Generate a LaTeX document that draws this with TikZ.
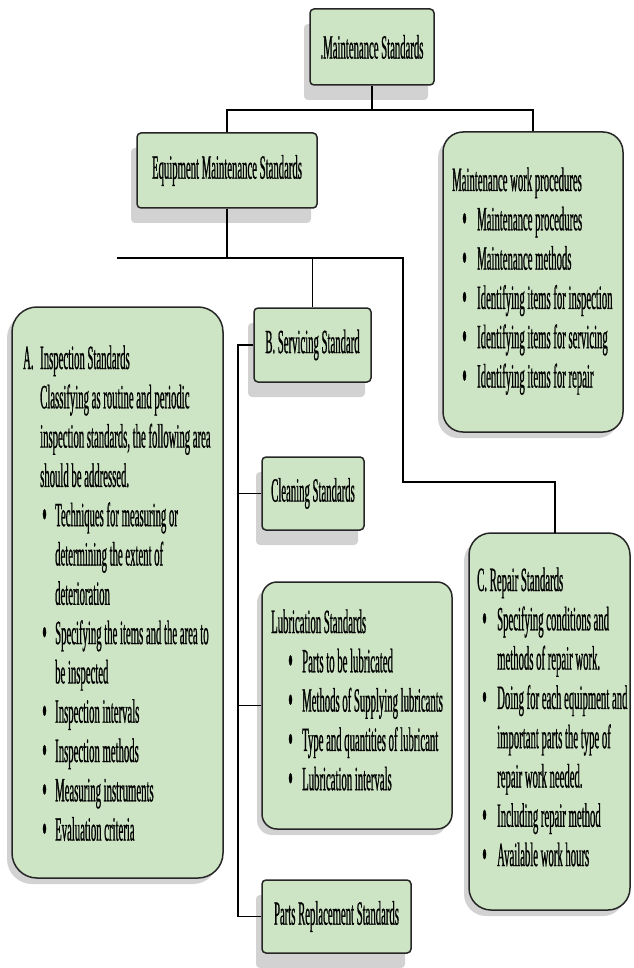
\documentclass[tikz,border=0pt]{standalone}
\usepackage{fontspec}
\setmainfont{Liberation Serif}[FakeStretch=0.315,FakeBold=0.6]
\usetikzlibrary{shadows}
\definecolor{boxgreen}{RGB}{205,229,196}
\pgfdeclarelayer{background}
\pgfsetlayers{background,main}
\newcommand\txtline[4]{\node[txt] (#1) at (#2,#3) {#4};}
\newcommand\bulline[5]{\node[bul] (#1d) at (#2,#4+2) {\textbullet}; \node[txt] (#1) at (#3,#4) {#5};}
\newcommand\drawlinks{%
  \draw (ms.south) -- (busA);
  \draw (ems.north) -- (ems.north |- busA) -- (mwp.north |- busA) -- (mwp.north);
  \draw (ems.south) -- (busB);
  \draw (busBl) -- (busBr) -- (elbow) -- (elbow -| repin) -- (repin);
  \draw (srv.north) -- (srv.north |- busB);
  \draw (srv.west) -- (trunk) -- (trunk |- prs.west) -- (prs.west);
  \draw (trunk |- cln.west) -- (cln.west);
  \draw (trunk |- lub.west) -- (lub.west);
}
\begin{document}
\begin{tikzpicture}[x=1pt,y=-1pt,
  basebox/.style={draw=black!85, line width=1.5pt, fill=boxgreen, rectangle, inner sep=0pt,
    font=\fontsize{34pt}{39.3pt}\selectfont},
  sbox/.style={basebox, rounded corners=4pt,
    drop shadow={shadow xshift=-6pt, shadow yshift=-15pt, fill=gray!35, opacity=1}},
  rbox/.style={basebox,
    drop shadow={shadow xshift=-5pt, shadow yshift=-6pt, fill=gray!35, opacity=1}},
  txt/.style={anchor=base west, inner sep=0pt, font=\fontsize{34pt}{39.3pt}\selectfont},
  bul/.style={anchor=base west, inner sep=0pt, font=\fontsize{42pt}{42pt}\selectfont}]
\useasboundingbox (0,0) rectangle (633,968);
\fill[white] (0,0) rectangle (633,968);

% boxes
\node[sbox, minimum width=124pt, minimum height=76pt] (ms) at (372,47) {.Maintenance Standards};
\node[sbox, minimum width=180pt, minimum height=75pt] (ems) at (227,170.5) {Equipment Maintenance Standards};
\node[rbox, rounded corners=20pt, minimum width=180pt, minimum height=300pt] (mwp) at (533,282) {};
\node[sbox, minimum width=117pt, minimum height=74pt] (srv) at (312.5,345) {B. Servicing Standard};
\node[rbox, rounded corners=25pt, minimum width=211pt, minimum height=571pt] (ins) at (117.5,592.5) {};
\node[sbox, minimum width=102pt, minimum height=73pt] (cln) at (313,493.5) {Cleaning Standards};
\node[rbox, rounded corners=15pt, minimum width=190pt, minimum height=247pt] (lub) at (357,705.5) {};
\node[sbox, minimum width=149pt, minimum height=73pt] (prs) at (336.5,916.5) {Parts Replacement Standards};
\node[rbox, rounded corners=22pt, minimum width=161pt, minimum height=377pt] (rep) at (549.5,721.5) {};

% connector points
\coordinate (busA) at (372,110);
\coordinate (busB) at (227,258);
\coordinate (busBl) at (117,258);
\coordinate (busBr) at (403,258);
\coordinate (elbow) at (403,482);
\coordinate (repin) at (555,533);
\coordinate (trunk) at (238,345);

\begin{pgfonlayer}{background}
\begin{scope}[transform canvas={shift={(-5pt,-16pt)}}, gray!35, line width=1pt]
\drawlinks
\end{scope}
\end{pgfonlayer}
\begin{scope}[black, line width=1.2pt]
\drawlinks
\end{scope}

% Maintenance work procedures
\txtline{mwpH}{452}{191}{Maintenance work procedures}
\bulline{mwp1}{462}{477}{230.3}{Maintenance procedures}
\bulline{mwp2}{462}{477}{269.6}{Maintenance methods}
\bulline{mwp3}{462}{477}{308.9}{Identifying items for inspection}
\bulline{mwp4}{462}{477}{348.2}{Identifying items for servicing}
\bulline{mwp5}{462}{477}{387.5}{Identifying items for repair}

% Inspection standards
\txtline{insA}{23}{369}{A.}
\txtline{insH}{40}{369}{Inspection Standards}
\txtline{ins1}{40}{408.3}{Classifying as routine and periodic}
\txtline{ins2}{40}{447.6}{inspection standards, the following area}
\txtline{ins3}{40}{486.9}{should be addressed.}
\bulline{ins4}{42}{55}{526.2}{Techniques for measuring or}
\txtline{ins5}{55}{565.5}{determining the extent of}
\txtline{ins6}{55}{604.8}{deterioration}
\bulline{ins7}{42}{55}{644.1}{Specifying the items and the area to}
\txtline{ins8}{55}{683.4}{be inspected}
\bulline{ins9}{42}{55}{722.7}{Inspection intervals}
\bulline{ins10}{42}{55}{762}{Inspection methods}
\bulline{ins11}{42}{55}{801.3}{Measuring instruments}
\bulline{ins12}{42}{55}{840.6}{Evaluation criteria}

% Lubrication standards
\txtline{lubH}{271}{633}{Lubrication Standards}
\bulline{lub1}{288}{302}{672.3}{Parts to be lubricated}
\bulline{lub2}{288}{302}{711.6}{Methods of Supplying lubricants}
\bulline{lub3}{288}{302}{750.9}{Type and quantities of lubricant}
\bulline{lub4}{288}{302}{790.2}{Lubrication intervals}

% Repair standards
\txtline{repH}{477}{591}{C. Repair Standards}
\bulline{rep1}{482}{497}{630.3}{Specifying conditions and}
\txtline{rep2}{497}{669.6}{methods of repair work.}
\bulline{rep3}{482}{497}{708.9}{Doing for each equipment and}
\txtline{rep4}{497}{748.2}{important parts the type of}
\txtline{rep5}{497}{787.5}{repair work needed.}
\bulline{rep6}{482}{497}{826.8}{Including repair method}
\bulline{rep7}{482}{497}{866.1}{Available work hours}
\end{tikzpicture}
\end{document}
